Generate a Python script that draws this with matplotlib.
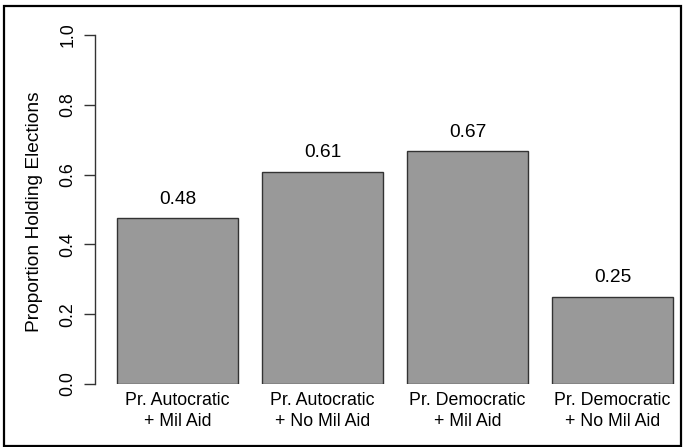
import numpy as np
import matplotlib
matplotlib.use('Agg')
import matplotlib.pyplot as plt

groups = ['Pr. Autocratic\n+ Mil Aid', 'Pr. Autocratic\n+ No Mil Aid',
          'Pr. Democratic\n+ Mil Aid', 'Pr. Democratic\n+ No Mil Aid']
props = [0.475, 0.607, 0.667, 0.25]
prop_labels = ['0.48', '0.61', '0.67', '0.25']
yticks = [0.0, 0.2, 0.4, 0.6, 0.8, 1.0]

plt.rcParams['font.family'] = ['Liberation Sans', 'DejaVu Sans']

W, H = 683, 447
fig = plt.figure(figsize=(W / 100, H / 100), dpi=100)

# axes region in pixels (R-style barplot, width 1, space 0.2)
left, right, bottom, top = 94.8, 695.2, 384, 35
ax = fig.add_axes([left / W, (H - bottom) / H, (right - left) / W, (bottom - top) / H])

x = 0.2 + np.arange(len(props)) * 1.2 + 0.5
ax.bar(x, props, width=1.0, color='#999999', edgecolor='#333333', linewidth=1.0)
for xi, v, lab in zip(x, props, prop_labels):
    ax.text(xi, v + 0.055, lab, ha='center', va='center', fontsize=13.8)

ax.set_xlim(0.016, 4.984)
ax.set_ylim(0, 1)
for s in ['top', 'right', 'bottom']:
    ax.spines[s].set_visible(False)
ax.spines['left'].set_linewidth(1.0)
ax.spines['left'].set_color('#333333')

ax.set_yticks(yticks)
ax.set_yticklabels(['%.1f' % t for t in yticks], rotation=90, va='center', fontsize=12.8)
ax.tick_params(axis='y', length=8, width=1.0, color='#333333', pad=5)

ax.set_xticks(x)
ax.set_xticklabels(groups, fontsize=12.8, linespacing=1.25)
ax.tick_params(axis='x', length=0, pad=6)

fig.text(35 / W, 1 - 212 / H, 'Proportion Holding Elections', rotation=90,
         ha='center', va='center', fontsize=13.8)

fig.patches.append(plt.Rectangle((4 / W, 1.5 / H), 677 / W, 440 / H,
                                 transform=fig.transFigure, fill=False,
                                 edgecolor='black', linewidth=1.6))

fig.savefig('out.png', dpi=100)
